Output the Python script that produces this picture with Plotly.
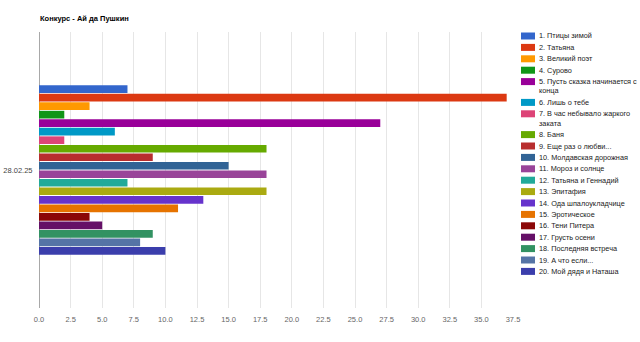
import plotly.graph_objects as go

# Competition results for one date
category = ["28.02.25"]
titles = [
    "1. Птицы зимой",
    "2. Татьяна",
    "3. Великий поэт",
    "4. Сурово",
    "5. Пусть сказка начинается с\nконца",
    "6. Лишь о тебе",
    "7. В час небывало жаркого\nзаката",
    "8. Баня",
    "9. Еще раз о любви...",
    "10. Молдавская дорожная",
    "11. Мороз и солнце",
    "12. Татьяна и Геннадий",
    "13. Эпитафия",
    "14. Ода шпалоукладчице",
    "15. Эротическое",
    "16. Тени Питера",
    "17. Грусть осени",
    "18. Последняя встреча",
    "19. А что если...",
    "20. Мой дядя и Наташа",
]
votes = [7, 37, 4, 2, 27, 6, 2, 18, 9, 15, 18, 7, 18, 13, 11, 4, 5, 9, 8, 10]
colors = [
    "#3366cc", "#dc3912", "#ff9900", "#109618", "#990099",
    "#0099c6", "#dd4477", "#66aa00", "#b82e2e", "#316395",
    "#994499", "#22aa99", "#aaaa11", "#6633cc", "#e67300",
    "#8b0707", "#651067", "#329262", "#5574a6", "#3b3eac",
]
x_ticks = [i * 2.5 for i in range(16)]

FONT = "Arial, Liberation Sans, sans-serif"
W, H = 640, 342
ML, MR, MT, MB = 39, 127, 32, 34
PW, PH = W - ML - MR, H - MT - MB


def px_x(x):
    return (x - ML) / PW


def px_y(y):
    return (H - MB - y) / PH


fig = go.Figure()
for name, v, c in zip(titles, votes, colors):
    fig.add_trace(go.Bar(
        y=category, x=[v], name=name.replace("\n", " "), orientation="h",
        marker=dict(color=c, line=dict(width=0)),
        hovertemplate="%{x}<extra>" + name.replace("\n", " ") + "</extra>",
    ))

# Legend drawn at the right: colour swatch plus (possibly wrapped) label
annotations = []
shapes = []
y = 36.0
for name, c in zip(titles, colors):
    lines = name.split("\n")
    shapes.append(dict(
        type="rect", xref="paper", yref="paper",
        x0=px_x(521), x1=px_x(535), y0=px_y(y + 3.5), y1=px_y(y - 3.5),
        fillcolor=c, line=dict(width=0),
    ))
    for k, line in enumerate(lines):
        annotations.append(dict(
            text=line, xref="paper", yref="paper",
            x=px_x(536.5), y=px_y(y + 9.4 * k),
            xanchor="left", yanchor="middle", showarrow=False,
            font=dict(family=FONT, size=7.3, color="#222222"),
        ))
    y += 11.4 + 9.4 * (len(lines) - 1)

annotations.append(dict(
    text="<b>Конкурс - Ай да Пушкин</b>", xref="paper", yref="paper",
    x=px_x(38), y=px_y(18), xanchor="left", yanchor="middle", showarrow=False,
    font=dict(family=FONT, size=7.5, color="#000000"),
))

fig.update_layout(
    width=W, height=H,
    margin=dict(l=ML, r=MR, t=MT, b=MB, pad=0, autoexpand=False),
    paper_bgcolor="white", plot_bgcolor="white",
    barmode="group", bargap=0.383, bargroupgap=0.1,
    showlegend=False,
    font=dict(family=FONT, size=7.5, color="#444444"),
    annotations=annotations, shapes=shapes,
    xaxis=dict(
        range=[0, 37.5], tickvals=x_ticks, tickformat=".1f",
        showgrid=True, gridcolor="#e6e6e6", gridwidth=1,
        zeroline=True, zerolinecolor="#a8a8a8", zerolinewidth=1,
        showline=False, ticks="", fixedrange=True, automargin=False,
        tickfont=dict(family=FONT, size=7.5, color="#666666"),
        ticklabelstandoff=5,
    ),
    yaxis=dict(
        autorange="reversed", showgrid=False, zeroline=False, showline=False,
        ticks="outside", ticklen=4, tickcolor="rgba(0,0,0,0)", automargin=False,
        tickfont=dict(family=FONT, size=7.5, color="#444444"),
    ),
)

fig.write_html("out.html")
